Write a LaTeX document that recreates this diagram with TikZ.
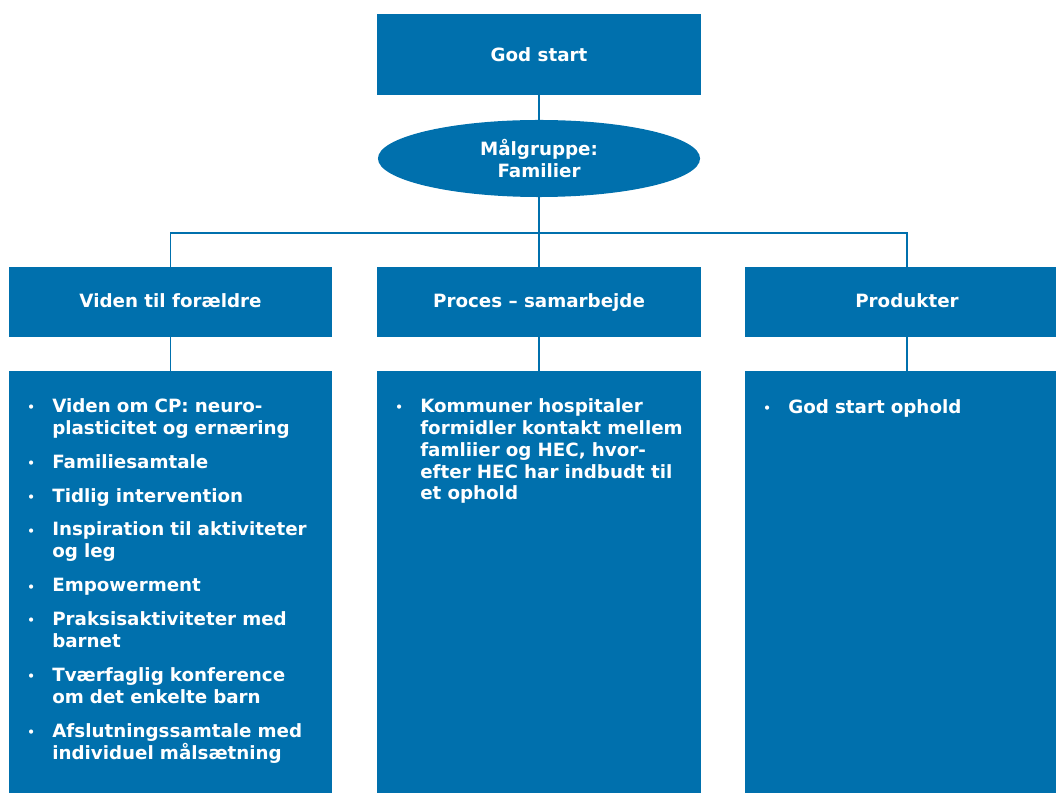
\documentclass[tikz,border=0pt]{standalone}
\usepackage{fontspec}
\setmainfont{DejaVu Sans}
\usepackage{enumitem}
\usetikzlibrary{shapes.geometric,positioning}
\definecolor{hecblue}{RGB}{0,112,173}
\setlist[itemize]{label=\raisebox{0.6pt}{\fontsize{8.5}{8.5}\selectfont\textbullet},
  leftmargin=0.625cm, labelwidth=0.3cm, labelsep=0.325cm, align=left,
  topsep=0pt, partopsep=0pt, parsep=0pt, itemsep=0.3cm}

\begin{document}
\begin{tikzpicture}[x=0.025cm,y=-0.025cm,
  every node/.style={font=\bfseries\fontsize{13}{15.6}\selectfont, text=white},
  boks/.style={rectangle, fill=hecblue, minimum width=8.075cm, inner sep=0pt},
  topboks/.style={boks, minimum height=2.025cm},
  overskrift/.style={boks, minimum height=1.75cm, text height=0.76em, text depth=0pt},
  indhold/.style={boks, minimum height=10.8cm, anchor=north},
  maalgruppe/.style={ellipse, fill=hecblue, minimum width=8.05cm,
    minimum height=1.925cm, inner sep=0pt, align=center},
  liste/.style={anchor=north west, inner sep=0pt, text width=7.9cm, align=left},
  forbind/.style={draw=hecblue, line width=1.1pt}]
\useasboundingbox (0,0) rectangle (1056,793);
\clip (0,0) rectangle (1056,793);

\node[topboks] (start) at (539,54.5) {God start};
\node[maalgruppe] (maal) at (539,158.5) {Målgruppe:\\Familier};

\node[overskrift] (viden) at (170.5,302) {Viden til forældre};
\node[overskrift] (proces) at (539,302) {Proces – samarbejde};
\node[overskrift] (produkt) at (907,302) {Produkter};

\node[indhold] (vidensboks) at (170.5,371) {};
\node[indhold] (procesboks) at (539,371) {};
\node[indhold] (produktboks) at (907,371) {};

\coordinate (gren) at (539,233);

\draw[forbind] (start) -- (maal);
\draw[forbind] (maal) -- (proces);
\draw[forbind] (viden.north) |- (gren) -| (produkt.north);
\draw[forbind] (viden) -- (vidensboks);
\draw[forbind] (proces) -- (procesboks);
\draw[forbind] (produkt) -- (produktboks);

\node[liste] (videnliste) at (27,390) {%
\begin{itemize}
\item Viden om CP: neuro-\\plasticitet og ernæring
\item Familiesamtale
\item Tidlig intervention
\item Inspiration til aktiviteter\\og leg
\item Empowerment
\item Praksisaktiviteter med\\barnet
\item Tværfaglig konference\\om det enkelte barn
\item Afslutningssamtale med\\individuel målsætning
\end{itemize}};

\node[liste] (procesliste) at (395,390) {%
\begin{itemize}
\item Kommuner hospitaler\\formidler kontakt mellem\\famliier og HEC, hvor-\\efter HEC har indbudt til\\et ophold
\end{itemize}};

\node[liste] (produktliste) at (763,391) {%
\begin{itemize}
\item God start ophold
\end{itemize}};
\end{tikzpicture}
\end{document}
